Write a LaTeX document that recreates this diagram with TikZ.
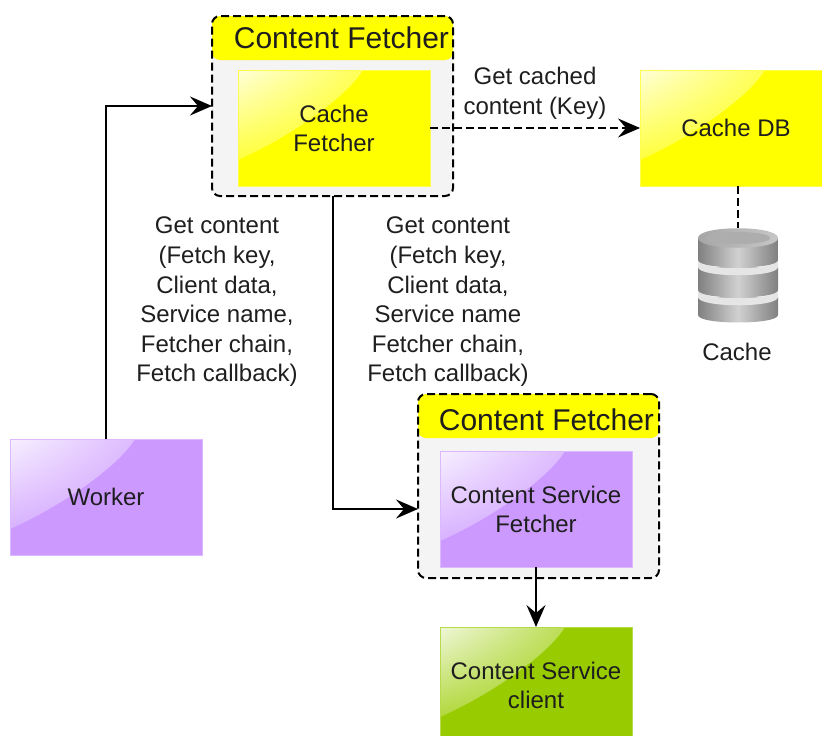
\documentclass[tikz,border=0pt]{standalone}
\usepackage{fontspec}
\setmainfont{Liberation Sans}
\usetikzlibrary{arrows.meta,shadings}
\definecolor{cyel}{HTML}{FFFF00}
\definecolor{cpur}{HTML}{CC99FF}
\definecolor{cgrn}{HTML}{99CC00}
\definecolor{cgry}{HTML}{F4F4F4}
\definecolor{ctxt}{HTML}{1E1E1E}
\tikzset{
  x=1pt,y=-1pt,
  every node/.style={text=ctxt,inner sep=0pt,outer sep=0pt},
  glossbox/.style={rectangle,minimum width=192pt,minimum height=116pt,fill=#1,
    draw=#1!70!white,line width=.8pt,align=center,
    font=\fontsize{24}{29}\selectfont,
    path picture={
      \shade[upper left=white!85!#1,upper right=white!6!#1,lower left=white!6!#1,lower right=#1]
        (path picture bounding box.north west) ++(125,0)
        .. controls +(-17,28) and +(50,-22) .. ++(-125,90)
        -- (path picture bounding box.north west) -- cycle;}},
  groupbox/.style={rectangle,rounded corners=8pt,minimum width=241pt,minimum height=#1,
    fill=cgry,draw=black,line width=2pt,dash pattern=on 8pt off 4pt,
    path picture={
      \fill[cyel] (path picture bounding box.north west) rectangle ++(241,44);}},
  grouptitle/.style={font=\fontsize{30}{32}\selectfont,anchor=east},
  lbl/.style={align=center,font=\fontsize{24}{29.6}\selectfont},
  flow/.style={draw=black,line width=2pt,-{Stealth[length=22pt,width=19pt,inset=8pt]}},
  dflow/.style={flow,dash pattern=on 8pt off 4pt},
  dlink/.style={draw=black,line width=2pt,dash pattern=on 8pt off 4pt},
  discbody/.style={left color=black!50,right color=black!50,middle color=black!18},
}
\newcommand{\cyldisc}[3]{%
  \shade[discbody] (698,#1) -- (778,#1) -- (778,#2)
     .. controls (778,#3) and (698,#3) .. (698,#2) -- cycle;}
\newcommand{\twolines}[2]{\raisebox{-2pt}{#1}\\\raisebox{-2pt}{#2}}
\begin{document}
\begin{tikzpicture}
\useasboundingbox (0,0) rectangle (822,736);
\clip (0,0) rectangle (822,736);
% groups
\node[groupbox=180pt] (group1) at (332.5,106) {};
\node[grouptitle] (title1) at (449,38) {Content Fetcher};
\node[glossbox=cyel] (cachefetcher) at (334,128) {\twolines{Cache}{Fetcher}};
\node[groupbox=184pt] (group2) at (538.5,486) {};
\node[grouptitle] (title2) at (654,420) {Content Fetcher};
\node[glossbox=cpur] (servicefetcher) at (536,509) {\twolines{Content Service}{Fetcher}};
% boxes
\node[glossbox=cyel] (cachedb) at (736,128) {Cache DB};
\node[glossbox=cpur] (worker) at (106,497) {Worker};
\node[glossbox=cgrn] (client) at (536,685) {\twolines{Content Service}{client}};
% cylinder
\node[minimum width=80pt,minimum height=94pt] (cyl) at (738,275) {};
\cyldisc{297}{315}{325}
\fill[black!10] (698,290) .. controls (698,301) and (778,301) .. (778,290) -- (778,297) .. controls (778,308) and (698,308) .. (698,297) -- cycle;
\cyldisc{267}{290}{300}
\fill[black!10] (698,260) .. controls (698,271) and (778,271) .. (778,260) -- (778,267) .. controls (778,278) and (698,278) .. (698,267) -- cycle;
\cyldisc{238}{260}{270}
\shade[left color=black!35,right color=black!22] (698,238) .. controls (698,225) and (778,225) .. (778,238) .. controls (778,251) and (698,251) .. (698,238) -- cycle;
\fill[black!32] (706,238) .. controls (706,230) and (770,230) .. (770,238) .. controls (770,246) and (706,246) .. (706,238) -- cycle;
% connectors
\draw[flow] (worker.north) |- (group1.west);
\draw[flow] (group1.south) |- (group2.west |- servicefetcher.west);
\draw[flow] (servicefetcher.south) -- (client.north);
\draw[dflow] (cachefetcher.east) -- (cachedb.west);
\draw[dlink] (cachedb.south -| cyl.north) -- (cyl.north);
% labels
\node[lbl] (lblcached) at (535,93) {Get cached\\content (Key)};
\node[lbl] (lblleft) at (217,302) {Get content\\(Fetch key,\\Client data,\\Service name,\\Fetcher chain,\\Fetch callback)};
\node[lbl] (lblright) at (448,302) {Get content\\(Fetch key,\\Client data,\\Service name\\Fetcher chain,\\Fetch callback)};
\node[lbl] (lblcache) at (737,352) {Cache};
\end{tikzpicture}
\end{document}
